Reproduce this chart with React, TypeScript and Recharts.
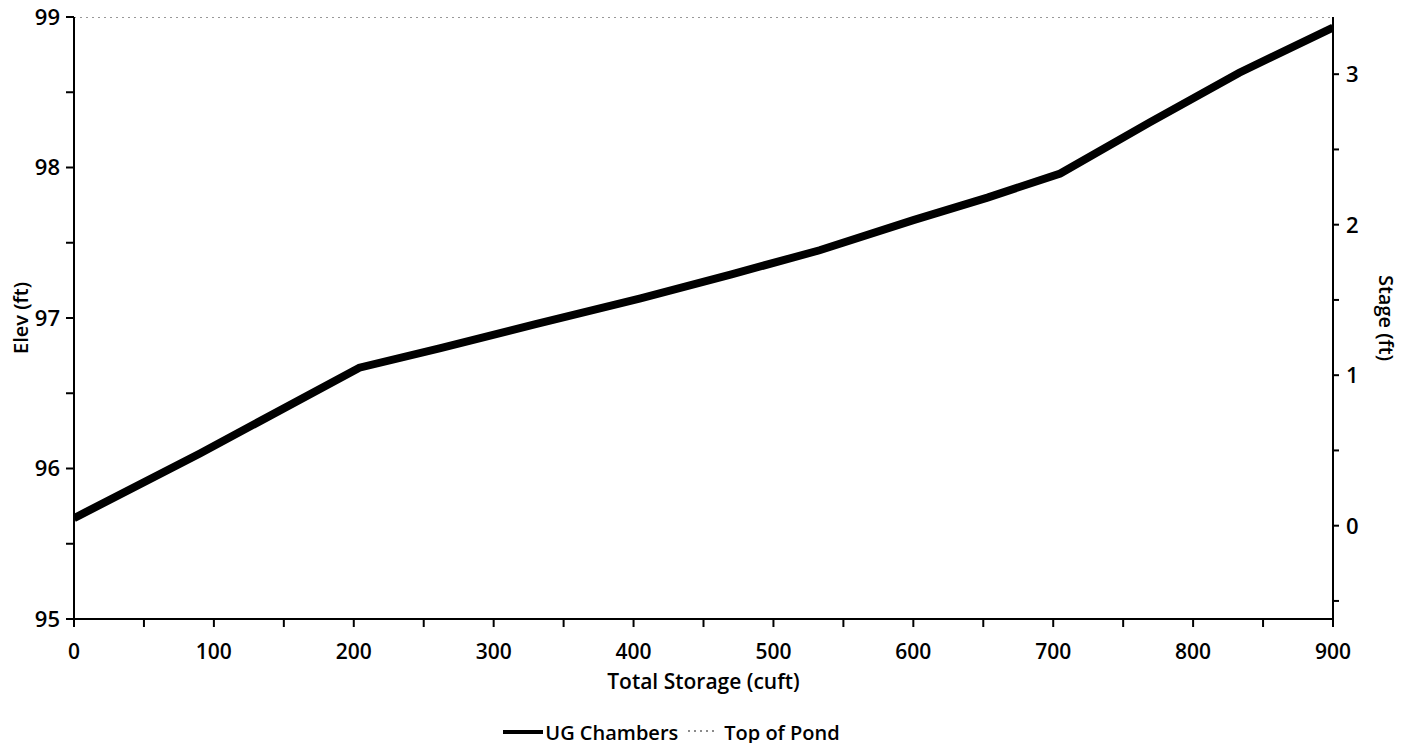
import React from 'react';
import { LineChart, Line, XAxis, YAxis, Legend, Label } from 'recharts';

const storage = [0, 90, 204, 262, 330, 405, 470, 533, 600, 653, 705, 769, 833, 900];
const ugElev = [95.67, 96.1, 96.67, 96.8, 96.96, 97.13, 97.29, 97.45, 97.65, 97.8, 97.96, 98.3, 98.63, 98.93];
const pondStorage = [0, 900];
const pondElev = [99, 99];

const xTicks = [0, 50, 100, 150, 200, 250, 300, 350, 400, 450, 500, 550, 600, 650, 700, 750, 800, 850, 900];
const elevTicks = [95, 95.5, 96, 96.5, 97, 97.5, 98, 98.5, 99];
const stageTicks = [-0.5, 0, 0.5, 1, 1.5, 2, 2.5, 3];

const ugData = storage.map((s, i) => ({ storage: s, elev: ugElev[i] }));
const pondData = pondStorage.map((s, i) => ({ storage: s, elev: pondElev[i] }));

const FONT = '"Open Sans", "Noto Sans", sans-serif';
const WEIGHT = 600;

const LeftTick = (props: any) => {
  const { x, y, payload } = props;
  if (!Number.isInteger(payload.value)) return null;
  return (
    <text x={x - 4} y={y} dy="0.36em" textAnchor="end" fontSize={22} fontWeight={WEIGHT} fontFamily={FONT} fill="#000">
      {payload.value}
    </text>
  );
};

const RightTick = (props: any) => {
  const { x, y, payload } = props;
  if (!Number.isInteger(payload.value)) return null;
  return (
    <text x={x + 5} y={y} dy="0.36em" textAnchor="start" fontSize={22} fontWeight={WEIGHT} fontFamily={FONT} fill="#000">
      {payload.value}
    </text>
  );
};

const BottomTick = (props: any) => {
  const { x, y, payload } = props;
  if (payload.value % 100 !== 0) return null;
  return (
    <text x={x} y={y} dy={30} textAnchor="middle" fontSize={21} fontWeight={WEIGHT} fontFamily={FONT} fill="#000">
      {payload.value}
    </text>
  );
};

const LegendContent = () => (
  <div
    style={{
      display: 'flex',
      justifyContent: 'center',
      alignItems: 'center',
      height: 22,
      fontFamily: FONT,
      fontSize: 20,
      fontWeight: WEIGHT,
      color: '#000',
      marginLeft: -40,
    }}
  >
    <svg width={40} height={10} style={{ marginRight: 2 }}>
      <line x1={0} y1={5} x2={40} y2={5} stroke="#000" strokeWidth={4} />
    </svg>
    <span style={{ marginRight: 10 }}>UG Chambers</span>
    <svg width={26} height={10} style={{ marginRight: 10 }}>
      <line x1={0} y1={4} x2={26} y2={4} stroke="#666" strokeWidth={1.5} strokeDasharray="2 4" />
    </svg>
    <span>Top of Pond</span>
  </div>
);

export default function App() {
  return (
    <div style={{ position: 'absolute', left: 0, top: 0, width: 1403, height: 743, background: '#fff' }}>
      <LineChart width={1403} height={743} margin={{ top: 17, right: 20, bottom: 0, left: 0 }}>
        <XAxis
          dataKey="storage"
          type="number"
          domain={[0, 900]}
          ticks={xTicks}
          interval={0}
          allowDataOverflow
          height={102}
          tick={<BottomTick />}
          tickSize={8}
          axisLine={{ stroke: '#000', strokeWidth: 2 }}
          tickLine={{ stroke: '#000', strokeWidth: 2 }}
        >
          <Label
            value="Total Storage (cuft)"
            position="insideBottom"
            offset={32}
            fontSize={21}
            fontWeight={WEIGHT}
            fontFamily={FONT}
            fill="#000"
          />
        </XAxis>
        <YAxis
          yAxisId="left"
          type="number"
          domain={[95, 99]}
          ticks={elevTicks}
          interval={0}
          allowDataOverflow
          width={74}
          tick={<LeftTick />}
          tickSize={8}
          axisLine={{ stroke: '#000', strokeWidth: 2 }}
          tickLine={{ stroke: '#000', strokeWidth: 2 }}
        >
          <Label
            value="Elev (ft)"
            angle={-90}
            position="center"
            dx={-16}
            fontSize={20}
            fontWeight={WEIGHT}
            fontFamily={FONT}
            fill="#000"
          />
        </YAxis>
        <YAxis
          yAxisId="right"
          orientation="right"
          type="number"
          domain={[-0.62, 3.38]}
          ticks={stageTicks}
          interval={0}
          allowDataOverflow
          width={50}
          tick={<RightTick />}
          tickSize={6}
          axisLine={{ stroke: '#000', strokeWidth: 2 }}
          tickLine={{ stroke: '#000', strokeWidth: 2 }}
        >
          <Label
            value="Stage (ft)"
            angle={90}
            position="center"
            dx={28}
            fontSize={20}
            fontWeight={WEIGHT}
            fontFamily={FONT}
            fill="#000"
          />
        </YAxis>
        <Legend verticalAlign="bottom" align="center" content={<LegendContent />} />
        <Line
          yAxisId="left"
          data={pondData}
          dataKey="elev"
          name="Top of Pond"
          stroke="#777"
          strokeWidth={1.5}
          strokeDasharray="2 4"
          dot={false}
          isAnimationActive={false}
        />
        <Line
          yAxisId="left"
          data={ugData}
          dataKey="elev"
          name="UG Chambers"
          stroke="#000"
          strokeWidth={8}
          dot={false}
          isAnimationActive={false}
        />
      </LineChart>
    </div>
  );
}
